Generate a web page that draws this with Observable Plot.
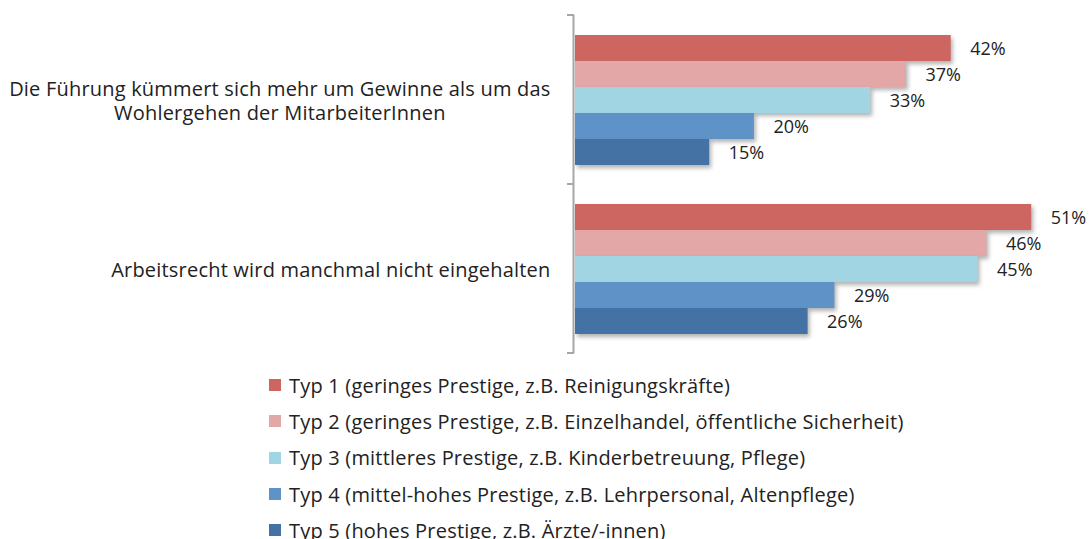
<!DOCTYPE html>
<html>
<head>
<meta charset="utf-8">
<script src="https://cdn.jsdelivr.net/npm/d3@7"></script>
<script src="https://cdn.jsdelivr.net/npm/@observablehq/plot@0.6"></script>
<style>
  html, body { margin: 0; padding: 0; background: #fff; overflow: hidden; }
  body { width: 1091px; height: 539px; font-family: "Open Sans", Lato, sans-serif; color: #222; }
  #chart svg g[aria-label="bar"] rect { filter: drop-shadow(2px 3px 2px rgba(0,0,0,0.3)); }
  #chart svg g[aria-label="fy-axis tick label"] { letter-spacing: 0.2px; }
  #legend { padding-top: 7px; }
  .item { display: flex; align-items: center; height: 36.3px; margin-left: 269px; font-size: 20px; letter-spacing: 0.2px; }
  .sw { width: 12px; height: 12px; margin-right: 8px; flex: none; }
</style>
</head>
<body>
<div id="chart"></div>
<div id="legend"></div>
<script>
const categories = [
  "Die Führung kümmert sich mehr um Gewinne als um das\nWohlergehen der MitarbeiterInnen",
  "Arbeitsrecht wird manchmal nicht eingehalten"
];
const types = [
  "Typ 1 (geringes Prestige, z.B. Reinigungskräfte)",
  "Typ 2 (geringes Prestige, z.B. Einzelhandel, öffentliche Sicherheit)",
  "Typ 3 (mittleres Prestige, z.B. Kinderbetreuung, Pflege)",
  "Typ 4 (mittel-hohes Prestige, z.B. Lehrpersonal, Altenpflege)",
  "Typ 5 (hohes Prestige, z.B. Ärzte/-innen)"
];
const typ1 = [42, 51];
const typ2 = [37, 46];
const typ3 = [33, 45];
const typ4 = [20, 29];
const typ5 = [15, 26];
const colors = ["#CD6660", "#E2A7A6", "#A2D5E3", "#5F93C8", "#4472A5"];

const series = [typ1, typ2, typ3, typ4, typ5];
const rows = types.flatMap((t, i) => categories.map((c, j) => ({category: c, type: t, value: series[i][j]})));

const chart = Plot.plot({
  width: 1091,
  height: 360,
  marginTop: 15,
  marginBottom: 7,
  marginLeft: 575,
  marginRight: 24,
  style: {fontFamily: "'Open Sans', Lato, sans-serif", fontSize: "20px", color: "#222", background: "white"},
  x: {domain: [0, 55], axis: null},
  y: {domain: types, paddingInner: 0, paddingOuter: 0.75, axis: null},
  fy: {domain: categories, padding: 0},
  color: {domain: types, range: colors},
  marks: [
    Plot.barX(rows, {x: "value", y: "type", fy: "category", fill: "type"}),
    Plot.text(rows, {x: "value", y: "type", fy: "category", text: d => d.value + "%", textAnchor: "start", dx: 19, dy: 1, fill: "#222", fontSize: 18}),
    Plot.ruleX([0], {stroke: "#A6A6A6", strokeWidth: 2, dx: -2}),
    Plot.axisFy({anchor: "left", tickSize: 0, tickPadding: 25, label: null, fontSize: 20, lineHeight: 1.2, fill: "#222"})
  ]
});
document.getElementById("chart").appendChild(chart);

// ticks at the group boundaries on the category axis
const xs = chart.scale("x");
const fys = chart.scale("fy");
const x0 = xs.apply(0) - 2;
const bounds = categories.map(c => fys.apply(c)).concat([fys.apply(categories[categories.length - 1]) + fys.bandwidth]);
d3.select(chart).append("g")
  .selectAll("line").data(bounds).join("line")
  .attr("x1", x0 - 6).attr("x2", x0 + 1)
  .attr("y1", d => d).attr("y2", d => d)
  .attr("stroke", "#A6A6A6").attr("stroke-width", 2);

// center multi-line category labels within their block
d3.select(chart).selectAll('g[aria-label="fy-axis tick label"] text').each(function() {
  const b = this.getBBox();
  this.setAttribute("text-anchor", "middle");
  const t = this.getAttribute("transform") || "";
  this.setAttribute("transform", t + ` translate(${-b.width / 2},0)`);
});

// legend
const legend = d3.select("#legend");
types.forEach((t, i) => {
  const item = legend.append("div").attr("class", "item");
  item.append("div").attr("class", "sw").style("background", colors[i]);
  item.append("span").text(t);
});
</script>
</body>
</html>
